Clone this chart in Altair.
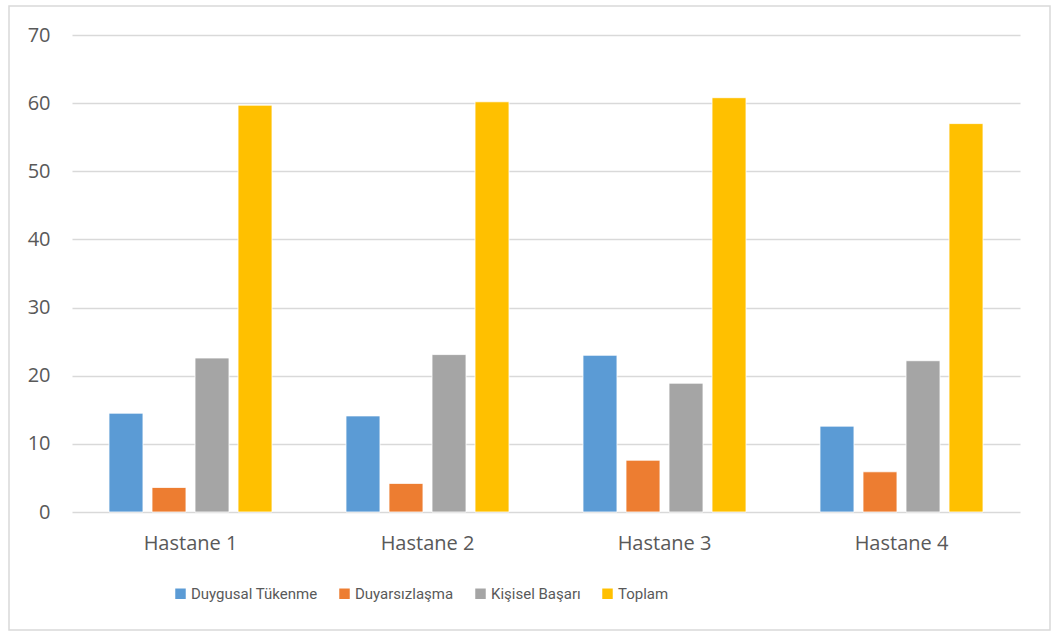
import altair as alt
import pandas as pd

hospitals = ["Hastane 1", "Hastane 2", "Hastane 3", "Hastane 4"]
series = ["Duygusal Tükenme", "Duyarsızlaşma", "Kişisel Başarı", "Toplam"]
colors = ["#5B9BD5", "#ED7D31", "#A5A5A5", "#FFC000"]
duygusal = [14.5, 14.1, 23.0, 12.6]
duyarsiz = [3.6, 4.2, 7.6, 5.9]
kisisel = [22.6, 23.1, 18.9, 22.2]
toplam = [59.7, 60.2, 60.8, 57.0]

rows = []
for s, vals in zip(series, [duygusal, duyarsiz, kisisel, toplam]):
    for h, v in zip(hospitals, vals):
        rows.append({"Hastane": h, "Seri": s, "Değer": v})
df = pd.DataFrame(rows)

FONT = "Open Sans"
LEGEND_FONT = "Roboto"

bars = alt.Chart(df).mark_bar(stroke="white", strokeWidth=0.8).encode(
    x=alt.X("Hastane:N", sort=hospitals, title=None,
            scale=alt.Scale(paddingInner=0, paddingOuter=0),
            axis=alt.Axis(labelAngle=0, ticks=False, domain=False, grid=False,
                          labelPadding=21, labelFontSize=20, labelColor="#595959",
                          labelFont=FONT)),
    xOffset=alt.XOffset("Seri:N", sort=series,
                        scale=alt.Scale(paddingInner=0.21, paddingOuter=0.86)),
    y=alt.Y("Değer:Q", title=None,
            scale=alt.Scale(domain=[0, 70]),
            axis=alt.Axis(values=[0, 10, 20, 30, 40, 50, 60, 70], ticks=False,
                          domain=False, gridColor="#d9d9d9", gridWidth=1.3,
                          labelPadding=22, labelFontSize=20, labelColor="#595959",
                          labelFont=FONT)),
    color=alt.Color("Seri:N", sort=series,
                    scale=alt.Scale(domain=series, range=colors),
                    legend=alt.Legend(title=None, orient="none", direction="horizontal",
                                      legendX=101, legendY=551,
                                      symbolType="square", symbolSize=110,
                                      symbolStrokeWidth=0,
                                      labelFontSize=15, labelColor="#595959",
                                      labelFont=LEGEND_FONT, labelLimit=400,
                                      columnPadding=19, labelOffset=3)),
)

border = alt.Chart(pd.DataFrame({"a": [0]})).mark_rect(
    fill=None, stroke="#d9d9d9", strokeWidth=1.5, clip=False
).encode(
    x=alt.value(-63), x2=alt.value(978), y=alt.value(-29), y2=alt.value(595)
)

chart = alt.layer(border, bars).properties(
    width=948, height=477,
    padding={"left": 72, "top": 35, "right": 33, "bottom": 120},
    autosize=alt.AutoSizeParams(type="none"),
    background="white",
).configure_view(stroke=None)

chart.save("out.html", embed_options={"renderer": "svg", "actions": False})
